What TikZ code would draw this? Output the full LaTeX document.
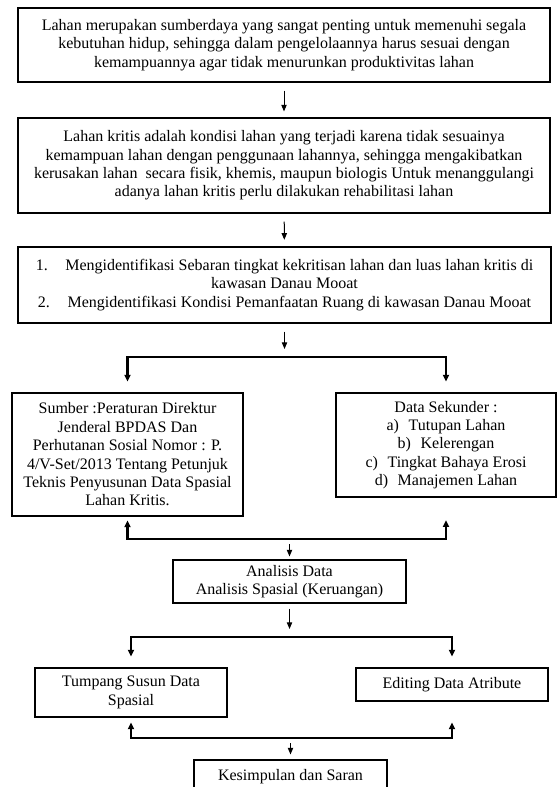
\documentclass[tikz,border=0pt]{standalone}
\usepackage{fontspec}
\setmainfont{Liberation Serif}
\usetikzlibrary{arrows.meta}

\begin{document}
\begin{tikzpicture}[x=0.75pt,y=-0.75pt,
		box/.style={draw,line width=0.8pt,inner sep=0pt,align=center,
			font={\fontsize{12}{13.8}\selectfont}},
		flow/.style={line width=0.75pt,-{Triangle[length=5pt,width=4pt]}},
		branch/.style={line width=1.6pt,{Triangle[length=5pt,width=4.5pt]}-{Triangle[length=5pt,width=4.5pt]}}]
		\useasboundingbox (0,0) rectangle (558,787);

		\node[box,minimum width=399pt,minimum height=55.5pt] (lahan) at (284,45)
			{Lahan merupakan sumberdaya yang sangat penting untuk memenuhi segala\\
			kebutuhan hidup, sehingga dalam pengelolaannya harus sesuai dengan\\
			kemampuannya agar tidak menurunkan produktivitas lahan};
		\node[box,minimum width=399pt,minimum height=71.25pt] (kritis) at (284,165.5)
			{Lahan kritis adalah kondisi lahan yang terjadi karena tidak sesuainya\\
			kemampuan lahan dengan penggunaan lahannya, sehingga mengakibatkan\\
			kerusakan lahan\ \ secara fisik, khemis, maupun biologis Untuk menanggulangi\\
			adanya lahan kritis perlu dilakukan rehabilitasi lahan};
		\node[box,minimum width=399.75pt,minimum height=57pt] (tujuan) at (284.5,285)
			{1.\hspace{1.1em}Mengidentifikasi Sebaran tingkat kekritisan lahan dan luas lahan kritis di\\
			kawasan Danau Mooat\\
			2.\hspace{1.1em}Mengidentifikasi Kondisi Pemanfaatan Ruang di kawasan Danau Mooat};

		\node[box,minimum width=173.25pt,minimum height=92.25pt] (sumber) at (127.5,454.5)
			{Sumber :Peraturan Direktur\\
			Jenderal BPDAS Dan\\
			Perhutanan Sosial Nomor : P.\\
			4/V-Set/2013 Tentang Petunjuk\\
			Teknis Penyusunan Data Spasial\\
			Lahan Kritis.};
		\node[box,minimum width=165pt,minimum height=78pt] (sekunder) at (446,445)
			{Data Sekunder :\\
			a)\hspace{0.6em}Tutupan Lahan\\
			b)\hspace{0.6em}Kelerengan\\
			c)\hspace{0.6em}Tingkat Bahaya Erosi\\
			d)\hspace{0.6em}Manajemen Lahan};

		\node[box,minimum width=174.75pt,minimum height=32.25pt] (analisis) at (289.5,581.5)
			{Analisis Data\\Analisis Spasial (Keruangan)};

		\node[box,minimum width=144pt,minimum height=36.75pt] (tumpang) at (131,692.5)
			{Tumpang Susun Data\\Spasial};
		\node[box,minimum width=144pt,minimum height=24.75pt] (editing) at (452,684.5)
			{Editing Data Atribute};

		\node[box,minimum width=144.75pt,minimum height=24.75pt] (simpul) at (290.5,776.5)
			{Kesimpulan dan Saran};

		\coordinate (fork1) at (284.5,357);
		\coordinate (join1) at (289.5,539);
		\coordinate (fork2) at (289.5,637);
		\coordinate (join2) at (290.5,738);

		\draw[flow,shorten <=6pt,shorten >=4.5pt] (lahan) -- (kritis);
		\draw[flow,shorten <=6pt,shorten >=5pt] (kritis) -- (tujuan);
		\draw[flow,shorten <=6pt,shorten >=6pt] (tujuan) -- (fork1);

		\draw[branch,shorten <=8.25pt,shorten >=8.25pt] (sumber.north) |- (fork1) -| (sekunder.north);
		\draw[branch,shorten <=3pt,shorten >=17pt] (sumber.south) |- (join1) -| (sekunder.south);

		\draw[flow,shorten <=3.75pt,shorten >=2.25pt] (join1) -- (analisis);
		\draw[flow,shorten <=3.75pt,shorten >=6pt] (analisis) -- (fork2);

		\draw[branch,shorten <=8.25pt,shorten >=8.25pt] (tumpang.north) |- (fork2) -| (editing.north);
		\draw[branch,shorten <=3.75pt,shorten >=15.75pt] (tumpang.south) |- (join2) -| (editing.south);

		\draw[flow,shorten <=3.75pt,shorten >=3.75pt] (join2) -- (simpul);
	\end{tikzpicture}
\end{document}
